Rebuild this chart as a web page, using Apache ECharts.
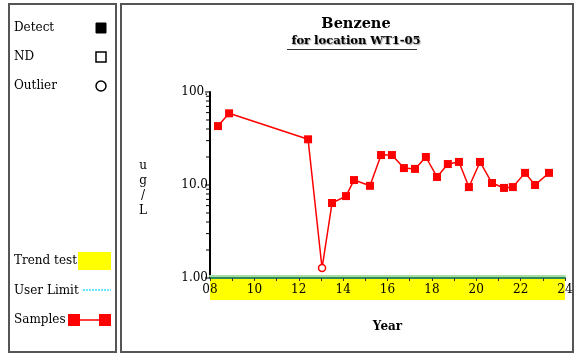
<!DOCTYPE html>
<html><head><meta charset="utf-8">
<script src="https://cdn.jsdelivr.net/npm/echarts@6/dist/echarts.min.js"></script>
<style>html,body{margin:0;padding:0;background:#fff}#c{width:576px;height:355px}</style>
</head><body><div id="c"></div>
<script>
// ---- data ----
var years = [8.36, 8.86, 12.42, 13.05, 13.50, 14.13, 14.49, 15.21, 15.71, 16.20, 16.74, 17.24, 17.73, 18.23, 18.72, 19.22, 19.67, 20.17, 20.71, 21.25, 21.65, 22.20, 22.65, 23.28];
var values = [43, 59, 31, 1.28, 6.4, 7.6, 11.3, 9.8, 21, 21, 15.2, 14.9, 20, 12.2, 16.8, 17.7, 9.5, 17.7, 10.5, 9.3, 9.5, 13.5, 10, 13.5];
var outlierIndex = [3];
var yMajorTicks = [1, 10, 100];
var yMinorTicks = [2, 3, 4, 5, 6, 7, 8, 9, 20, 30, 40, 50, 60, 70, 80, 90];
var yTickLabels = {1: '1.00', 10: '10.0', 100: '100.'};
var xMin = 8, xMax = 24;
var trendRange = [8, 24];

var SERIF = '"DejaVu Serif","Liberation Serif",serif';
var chart = echarts.init(document.getElementById('c'), null, {renderer: 'canvas'});

var sampleData = years.map(function (y, i) {
  var item = {value: [y, values[i]]};
  if (outlierIndex.indexOf(i) >= 0) {
    item.symbol = 'circle';
    item.symbolSize = 7;
    item.itemStyle = {color: '#fff', borderColor: '#ff0000', borderWidth: 1.5};
  }
  return item;
});
var tickData = yMajorTicks.map(function (v) { return [xMin, v, 1]; })
  .concat(yMinorTicks.map(function (v) { return [xMin, v, 0]; }));

chart.setOption({
  animation: false,
  backgroundColor: '#fff',
  title: {
    text: 'Benzene',
    subtext: 'for location WT1-05',
    left: 351, textAlign: 'center', top: 12, itemGap: 3,
    textStyle: {fontFamily: SERIF, fontWeight: 'bold', fontSize: 14.5, color: '#000'},
    subtextStyle: {fontFamily: SERIF, fontWeight: 'bold', fontSize: 11.5, color: '#000',
      textShadowColor: '#999', textShadowOffsetX: 1, textShadowOffsetY: 1, textShadowBlur: 1}
  },
  grid: {left: 210, right: 11, top: 92, bottom: 77},
  xAxis: {
    type: 'value', min: xMin, max: xMax, interval: 2,
    name: 'Year', nameLocation: 'middle', nameGap: 43,
    nameTextStyle: {fontFamily: SERIF, fontSize: 12, color: '#000', fontWeight: 'bold'},
    axisLine: {show: true, onZero: false, lineStyle: {color: '#2e8b57', width: 2,
      shadowColor: '#a8dca8', shadowOffsetY: -2, shadowBlur: 0}},
    axisTick: {show: true, length: 3, lineStyle: {color: '#333'}},
    minorTick: {show: true, splitNumber: 2, length: 3, lineStyle: {color: '#333'}},
    splitLine: {show: false},
    axisLabel: {fontFamily: SERIF, fontSize: 12, color: '#000', margin: 6,
      formatter: function (v) { return (v < 10 ? '0' : '') + v; }}
  },
  yAxis: {
    type: 'log', logBase: 10, min: 1, max: 100,
    axisLine: {show: true, lineStyle: {color: '#000', width: 2}},
    axisTick: {show: false},
    splitLine: {show: false},
    axisLabel: {fontFamily: SERIF, fontSize: 12, color: '#000', margin: 2,
      formatter: function (v) { return yTickLabels[Math.round(v)] || ''; }}
  },
  series: [
    {
      type: 'custom', z: -1, silent: true, clip: false,
      data: [[trendRange[0], trendRange[1]]],
      renderItem: function (params, api) {
        var a = api.coord([api.value(0), 1]);
        var b = api.coord([api.value(1), 1]);
        return {type: 'rect', shape: {x: a[0], y: a[1] + 1, width: b[0] - a[0], height: 21},
          style: {fill: '#ffff00'}};
      }
    },
    {
      type: 'custom', silent: true, clip: false,
      data: tickData,
      renderItem: function (params, api) {
        var p = api.coord([api.value(0), api.value(1)]);
        var len = api.value(2) ? 5 : 4;
        return {type: 'line', shape: {x1: p[0] - len, y1: p[1], x2: p[0], y2: p[1]},
          style: {stroke: '#000', lineWidth: 1}};
      }
    },
    {
      type: 'line', data: sampleData, symbol: 'rect', symbolSize: 8,
      lineStyle: {color: '#ff0000', width: 1.5},
      itemStyle: {color: '#ff0000'}, z: 3
    }
  ],
  graphic: [
    {type: 'rect', shape: {x: 9, y: 4, width: 107, height: 348}, style: {fill: 'none', stroke: '#555', lineWidth: 2}},
    {type: 'rect', shape: {x: 121, y: 4, width: 452, height: 348}, style: {fill: 'none', stroke: '#555', lineWidth: 2}},
    {type: 'line', shape: {x1: 287, y1: 49.5, x2: 417, y2: 49.5}, style: {stroke: '#333', lineWidth: 1}},
    {type: 'text', x: 143, y: 188, style: {text: 'u\ng\n/\nL', font: '12px ' + SERIF, fill: '#000',
      textAlign: 'center', textVerticalAlign: 'middle', lineHeight: 15}},
    {type: 'text', x: 14, y: 28, style: {text: 'Detect', font: '12px ' + SERIF, fill: '#000', textVerticalAlign: 'middle'}},
    {type: 'rect', shape: {x: 96, y: 23, width: 10, height: 10}, style: {fill: '#000', stroke: '#000'}},
    {type: 'text', x: 14, y: 57, style: {text: 'ND', font: '12px ' + SERIF, fill: '#000', textVerticalAlign: 'middle'}},
    {type: 'rect', shape: {x: 96, y: 52, width: 10, height: 10}, style: {fill: '#fff', stroke: '#000', lineWidth: 1.5}},
    {type: 'text', x: 14, y: 86, style: {text: 'Outlier', font: '12px ' + SERIF, fill: '#000', textVerticalAlign: 'middle'}},
    {type: 'circle', shape: {cx: 101, cy: 86, r: 5}, style: {fill: '#fff', stroke: '#000', lineWidth: 1.5}},
    {type: 'text', x: 14, y: 261, style: {text: 'Trend test', font: '12px ' + SERIF, fill: '#000', textVerticalAlign: 'middle'}},
    {type: 'rect', shape: {x: 78, y: 252, width: 33, height: 18}, style: {fill: '#ffff00'}},
    {type: 'text', x: 14, y: 291, style: {text: 'User Limit', font: '12px ' + SERIF, fill: '#000', textVerticalAlign: 'middle'}},
    {type: 'line', shape: {x1: 83, y1: 290, x2: 111, y2: 290}, style: {stroke: '#66e8ff', lineWidth: 2, lineDash: [2, 1]}},
    {type: 'text', x: 14, y: 320, style: {text: 'Samples', font: '12px ' + SERIF, fill: '#000', textVerticalAlign: 'middle'}},
    {type: 'line', shape: {x1: 74, y1: 320, x2: 105, y2: 320}, style: {stroke: '#ff0000', lineWidth: 1.5}},
    {type: 'rect', shape: {x: 68, y: 314, width: 12, height: 12}, style: {fill: '#ff0000'}},
    {type: 'rect', shape: {x: 99, y: 314, width: 12, height: 12}, style: {fill: '#ff0000'}}
  ]
});
</script></body></html>
